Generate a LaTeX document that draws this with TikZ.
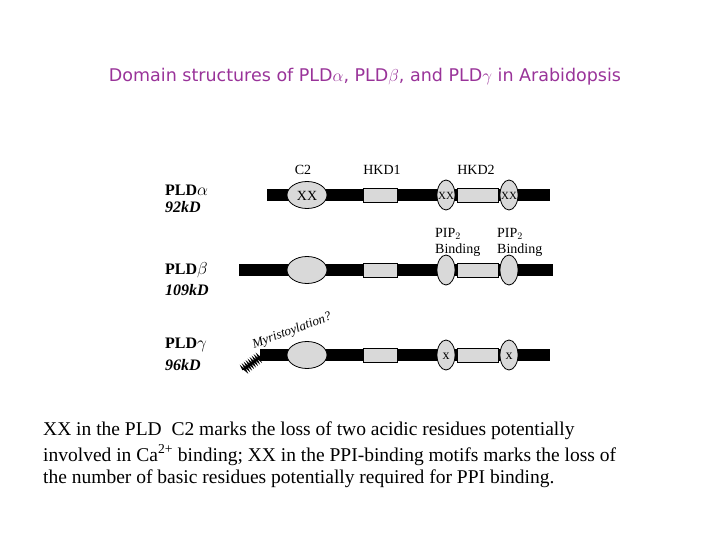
\documentclass[tikz,border=0pt]{standalone}
\usepackage{fontspec}
\setmainfont{Liberation Serif}
\newfontfamily\titlefont{DejaVu Sans}
\usetikzlibrary{decorations.pathmorphing}
\definecolor{ttl}{HTML}{993399}
\begin{document}
\begin{tikzpicture}[x=1pt,y=-1pt,
  bar/.style={fill=black,draw=none},
  dom/.style={fill=gray!30,draw=black,line width=0.8pt},
  lab/.style={font=\fontsize{14}{15}\selectfont,inner sep=0},
  pname/.style={font=\fontsize{16}{17}\selectfont\bfseries,inner sep=0,anchor=west},
  pkd/.style={font=\fontsize{16}{17}\selectfont\bfseries\itshape,inner sep=0,anchor=west}]
\useasboundingbox (0,0) rectangle (720,540);
\node[font=\titlefont\fontsize{17.5}{20}\selectfont,text=ttl] (title) at (365,77) {Domain structures of PLD$\alpha$, PLD$\beta$, and PLD$\gamma$ in Arabidopsis};
% alpha
\node[pname] (na) at (165,190) {PLD$\alpha$};
\node[pkd] (ka) at (165,207) {92kD};
\fill[bar] (267,189) rectangle (550,201);
\draw[dom] (307,195) ellipse (20 and 13.5);
\node[lab] (xa) at (307,196) {XX};
\draw[dom] (363,188) rectangle (397,202);
\draw[dom] (457,188) rectangle (498,202);
\draw[dom] (446,195) ellipse (9 and 15);
\draw[dom] (509,195) ellipse (9 and 15);
\node[lab,font=\fontsize{11}{12}\selectfont] (xa1) at (446,196) {XX};
\node[lab,font=\fontsize{11}{12}\selectfont] (xa2) at (509,196) {XX};
\node[lab] (c2) at (303,170) {C2};
\node[lab] (h1) at (382,170) {HKD1};
\node[lab] (h2) at (476,170) {HKD2};
% beta
\node[pname] (nb) at (165,270) {PLD$\beta$};
\node[pkd] (kb) at (165,290) {109kD};
\fill[bar] (239,264) rectangle (553,276);
\draw[dom] (307,270) ellipse (20 and 13.5);
\draw[dom] (363,263) rectangle (397,277);
\draw[dom] (457,263) rectangle (498,277);
\draw[dom] (446,270) ellipse (9 and 15);
\draw[dom] (509,270) ellipse (9 and 15);
\node[lab,anchor=west] (p1) at (435,234) {PIP$_2$};
\node[lab,anchor=west] (b1) at (435,250) {Binding};
\node[lab,anchor=west] (p2) at (497,234) {PIP$_2$};
\node[lab,anchor=west] (b2) at (497,250) {Binding};
% gamma
\node[pname] (ng) at (165,345) {PLD$\gamma$};
\node[pkd] (kg) at (165,365) {96kD};
\fill[bar] (260,349) rectangle (550,361);
\draw[dom] (307,355) ellipse (20 and 13.5);
\draw[dom] (363,348) rectangle (397,362);
\draw[dom] (457,348) rectangle (498,362);
\draw[dom] (446,355) ellipse (9 and 15);
\draw[dom] (509,355) ellipse (9 and 15);
\node[lab] (xg1) at (446,356) {x};
\node[lab] (xg2) at (509,356) {x};
\draw[line width=1.3pt,decorate,decoration={zigzag,segment length=2.5pt,amplitude=3pt}] (243,370) -- (260,357);
\node[lab,font=\fontsize{13}{14}\selectfont\itshape,rotate=20] (my) at (292,331) {Myristoylation?};
% caption
\node[anchor=west,inner sep=0,font=\fontsize{19.5}{24}\selectfont] (l1) at (43,431) {XX in the PLD\ \ C2 marks the loss of two acidic residues potentially};
\node[anchor=west,inner sep=0,font=\fontsize{19.5}{24}\selectfont] (l2) at (43,455) {involved in Ca\textsuperscript{2+} binding; XX in the PPI-binding motifs marks the loss of};
\node[anchor=west,inner sep=0,font=\fontsize{19.5}{24}\selectfont] (l3) at (43,479) {the number of basic residues potentially required for PPI binding.};
\end{tikzpicture}
\end{document}
